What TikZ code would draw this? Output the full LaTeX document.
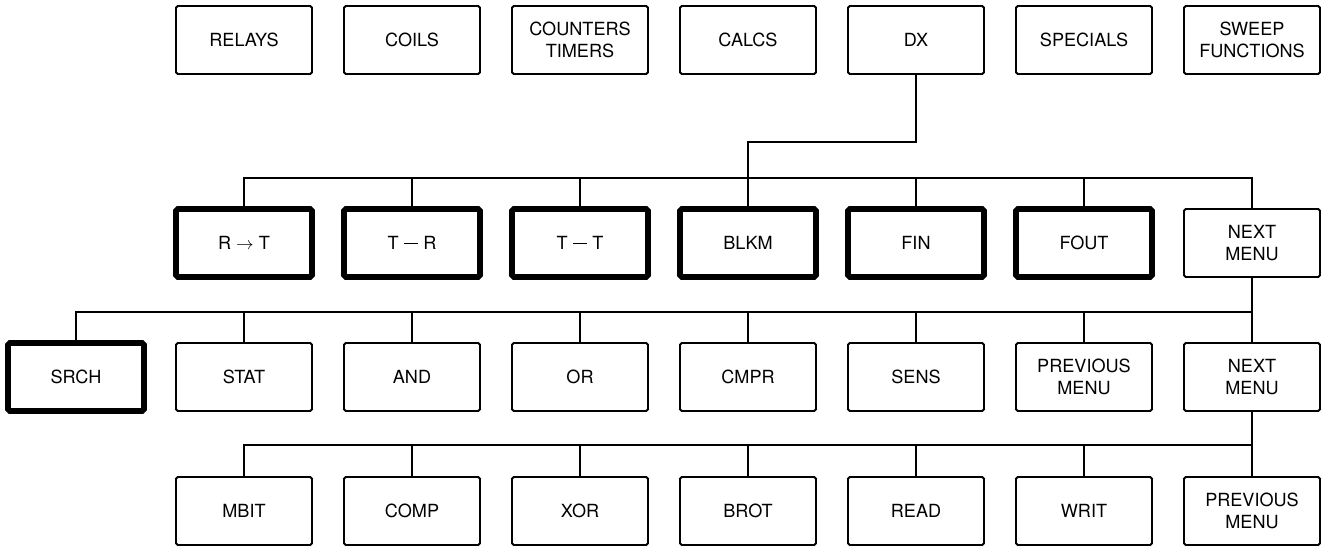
\documentclass[tikz,border=0pt]{standalone}
\usepackage{fontspec}
\setmainfont{TeX Gyre Heros}
\usetikzlibrary{positioning,calc}

\newcommand{\trait}{\rule[0.32em]{0.8em}{0.7pt}}

\begin{document}
\begin{tikzpicture}[
        node distance={1.32cm and 0.64cm},
        box/.style = {draw, line width=1.1pt, rounded corners=1pt, minimum width=2.72cm, minimum height=1.36cm,
                      inner sep=0pt, outer sep=0pt, align=center, font=\fontsize{10.3}{12.5}\selectfont},
        bold/.style = {box, line width=3.2pt},
        link/.style = {line width=1.1pt}
    ]
        \useasboundingbox (0,0) rectangle (26.54,-10.94);

        % Menu principal
        \node[box] (relays) at (4.88,-0.8) {RELAYS};
        \node[box] (coils) [right=of relays] {COILS};
        \node[box] (count) [right=of coils] {COUNTERS\\TIMERS};
        \node[box] (calcs) [right=of count] {CALCS};
        \node[box] (dx) [right=of calcs] {DX};
        \node[box] (spec) [right=of dx] {SPECIALS};
        \node[box] (sweep) [right=of spec] {SWEEP\\FUNCTIONS};

        % Menu DX, page 1
        \node[bold] (rt) [below=2.7cm of relays] {R $\rightarrow$ T};
        \node[bold] (tr) [right=of rt] {T \trait{} R};
        \node[bold] (tt) [right=of tr] {T \trait{} T};
        \node[bold] (blkm) [right=of tt] {BLKM};
        \node[bold] (fin) [right=of blkm] {FIN};
        \node[bold] (fout) [right=of fin] {FOUT};
        \node[box] (nexta) [right=of fout] {NEXT\\MENU};

        % Page 2
        \node[box] (stat) [below=of rt] {STAT};
        \node[bold] (srch) [left=of stat] {SRCH};
        \node[box] (and) [right=of stat] {AND};
        \node[box] (or) [right=of and] {OR};
        \node[box] (cmpr) [right=of or] {CMPR};
        \node[box] (sens) [right=of cmpr] {SENS};
        \node[box] (preva) [right=of sens] {PREVIOUS\\MENU};
        \node[box] (nextb) [right=of preva] {NEXT\\MENU};

        % Page 3
        \node[box] (mbit) [below=of stat] {MBIT};
        \node[box] (comp) [right=of mbit] {COMP};
        \node[box] (xor) [right=of comp] {XOR};
        \node[box] (brot) [right=of xor] {BROT};
        \node[box] (read) [right=of brot] {READ};
        \node[box] (writ) [right=of read] {WRIT};
        \node[box] (prevb) [right=of writ] {PREVIOUS\\MENU};

        % Liaisons
        \coordinate (b1) at ($(rt.north)+(0,0.62)$);
        \coordinate (b2) at ($(stat.north)+(0,0.62)$);
        \coordinate (b3) at ($(mbit.north)+(0,0.64)$);
        \draw[link] (dx.south) -- ++(0,-1.36) -| (blkm.north);
        \draw[link] (rt.north) |- (b1 -| nexta.north) -- (nexta.north);
        \foreach \n in {tr,tt,fin,fout}
            \draw[link] (\n.north) -- (\n.north |- b1);
        \draw[link] (srch.north) |- (b2 -| nexta.south);
        \draw[link] (nexta.south) -- (nextb.north);
        \foreach \n in {stat,and,or,cmpr,sens,preva}
            \draw[link] (\n.north) -- (\n.north |- b2);
        \draw[link] (mbit.north) |- (b3 -| nextb.south);
        \draw[link] (nextb.south) -- (prevb.north);
        \foreach \n in {comp,xor,brot,read,writ}
            \draw[link] (\n.north) -- (\n.north |- b3);

    \end{tikzpicture}
\end{document}
